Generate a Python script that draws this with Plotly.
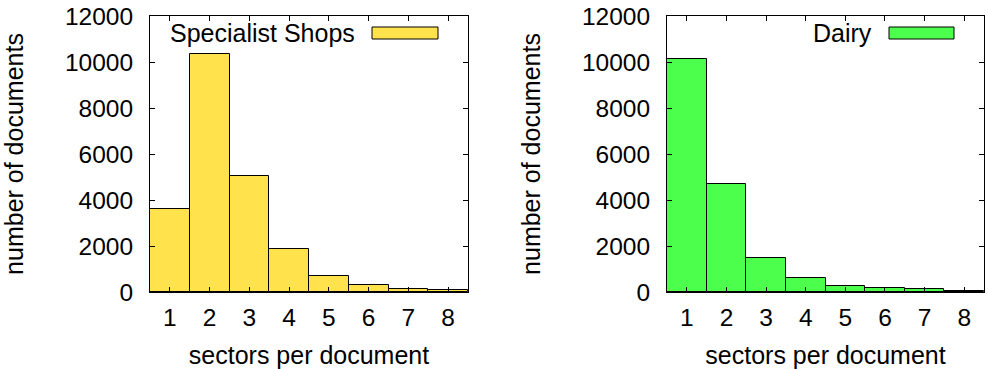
import plotly.graph_objects as go

sectors = [1, 2, 3, 4, 5, 6, 7, 8]
specialist_shops = [3620, 10350, 5030, 1860, 680, 320, 130, 100]
dairy = [10150, 4680, 1500, 620, 270, 160, 110, 25]
y_ticks = [0, 2000, 4000, 6000, 8000, 10000, 12000]
y_tick_labels = ["0", "2000", "4000", "6000", "8000", "10000", "12000"]

FONT = "Liberation Sans, Arial, Helvetica, sans-serif"

fig = go.Figure()
fig.add_trace(go.Bar(x=sectors, y=specialist_shops, width=1,
                     marker=dict(color="#ffe24c", line=dict(color="black", width=1)),
                     xaxis="x", yaxis="y", showlegend=False, name="Specialist Shops"))
fig.add_trace(go.Bar(x=sectors, y=dairy, width=1,
                     marker=dict(color="#4dff4d", line=dict(color="black", width=1)),
                     xaxis="x2", yaxis="y2", showlegend=False, name="Dairy"))

xax = dict(range=[0.5, 8.5], tickvals=sectors, ticks="inside", ticklen=5, tickcolor="black",
           showline=True, linecolor="black", linewidth=1, mirror="allticks",
           showgrid=False, zeroline=False, ticklabelstandoff=4, automargin=False,
           title=dict(text="sectors per document", standoff=23,
                      font=dict(size=25, color="black")),
           tickfont=dict(size=24.5, color="black"))
yax = dict(range=[0, 12000], tickvals=y_ticks, ticktext=y_tick_labels,
           ticks="inside", ticklen=5, tickcolor="black",
           showline=True, linecolor="black", linewidth=1, mirror="allticks",
           showgrid=False, zeroline=False, ticklabelstandoff=11, automargin=False,
           title=dict(text="number of documents", standoff=34,
                      font=dict(size=25, color="black")),
           tickfont=dict(size=24.5, color="black"))

left_end = (468 - 150) / 834
right_start = (667 - 150) / 834

fig.update_layout(
    width=988, height=369,
    margin=dict(l=150, r=4, t=16, b=77),
    plot_bgcolor="white", paper_bgcolor="white",
    font=dict(family=FONT, size=24.5, color="black"),
    bargap=0,
    xaxis=dict(xax, domain=[0, left_end], anchor="y"),
    yaxis=dict(yax, anchor="x"),
    xaxis2=dict(xax, domain=[right_start, 1], anchor="y2"),
    yaxis2=dict(yax, anchor="x2"),
)

# gnuplot-style keys: label text on the left, sample box on the right
for xref, yref, label, color, box in [
    ("x domain", "y domain", "Specialist Shops", "#ffe24c", (372, 438)),
    ("x2 domain", "y2 domain", "Dairy", "#4dff4d", (889, 954)),
]:
    x0_px = 150 if xref.startswith("x ") else 667
    x1_px = 468 if xref.startswith("x ") else 984
    w = x1_px - x0_px
    bx0 = (box[0] - x0_px) / w
    bx1 = (box[1] - x0_px) / w
    fig.add_shape(type="rect", xref=xref, yref=yref,
                  x0=bx0, x1=bx1, y0=1 - (39 - 16) / 276, y1=1 - (27 - 16) / 276,
                  fillcolor=color, line=dict(color="black", width=1))
    fig.add_annotation(xref=xref, yref=yref, x=bx0 - 15 / w, y=1 - (33 - 16) / 276,
                       text=label, showarrow=False, xanchor="right", yanchor="middle",
                       font=dict(size=25, color="black"))

fig.write_html("out.html", config={"displayModeBar": False},
               post_script="document.body.style.margin='0px';document.body.style.overflow='hidden';")
